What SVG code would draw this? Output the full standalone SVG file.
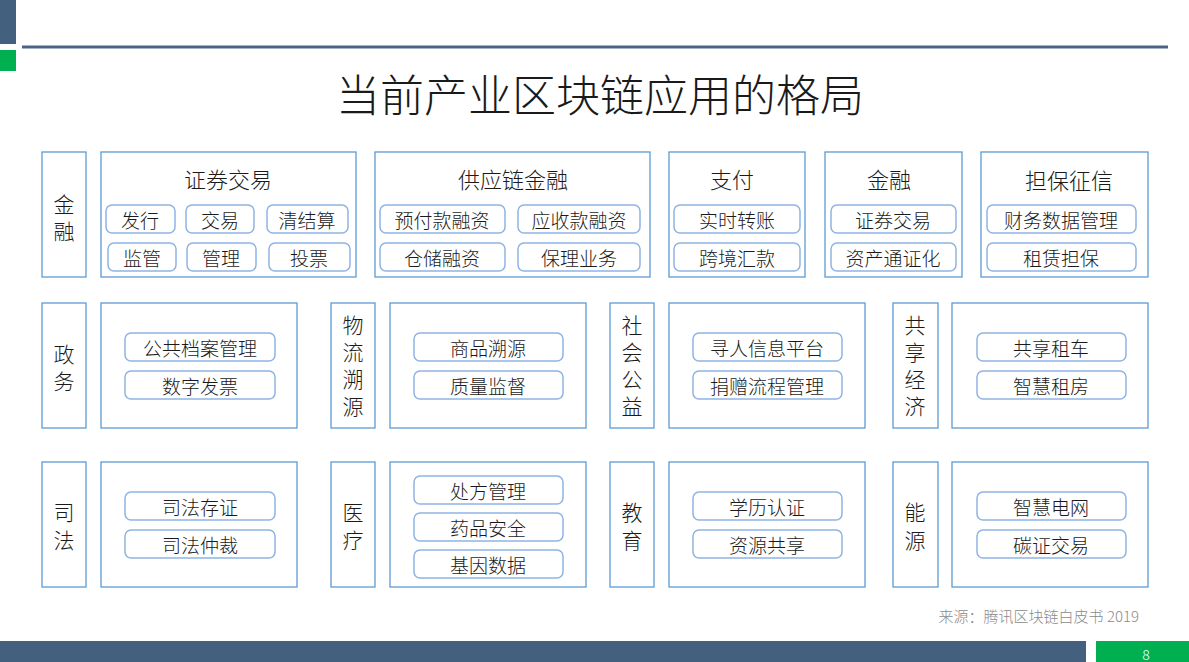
<svg xmlns="http://www.w3.org/2000/svg" width="1189" height="662" viewBox="0 0 1189 662">
<style>
text{font-family:"Noto Sans CJK SC","Noto Sans",sans-serif;fill:#1a1a1a;text-anchor:middle;font-weight:300}
.box{fill:#fff;stroke:#5b9bd5;stroke-width:1.3}
.pill{fill:#fff;stroke:#8fb4e3;stroke-width:1.5}
.lbl{font-size:21px;writing-mode:vertical-rl;letter-spacing:6px}
.l3{letter-spacing:7px}
.hd{font-size:22px;dominant-baseline:central}
.pt{font-size:19px;dominant-baseline:central}
</style>
<rect width="1189" height="662" fill="#fff"/>
<rect x="0" y="0" width="16" height="44" fill="#44607f"/>
<rect x="0" y="50" width="16" height="21" fill="#00b050"/>
<line x1="22" y1="47" x2="1168" y2="47" stroke="#4a6387" stroke-width="3"/>
<text x="600" y="93" style="font-size:44px;dominant-baseline:central">当前产业区块链应用的格局</text>

<g id="row1-label-jinrong"><rect class="box" x="42" y="152" width="44" height="125"/><text class="lbl" x="64" y="221">金融</text></g>
<g id="zhengquan"><rect class="box" x="101" y="152" width="255" height="125"/><text class="hd" x="228" y="178">证券交易</text>
<rect class="pill" x="106" y="205" width="69" height="28" rx="6"/><text class="pt" x="140" y="219">发行</text>
<rect class="pill" x="186" y="205" width="68" height="28" rx="6"/><text class="pt" x="220" y="219">交易</text>
<rect class="pill" x="267" y="205" width="81" height="28" rx="6"/><text class="pt" x="307" y="219">清结算</text>
<rect class="pill" x="108" y="243" width="68" height="28" rx="6"/><text class="pt" x="142" y="257">监管</text>
<rect class="pill" x="187" y="243" width="69" height="28" rx="6"/><text class="pt" x="221" y="257">管理</text>
<rect class="pill" x="269" y="243" width="81" height="28" rx="6"/><text class="pt" x="309" y="257">投票</text></g>
<g id="gongyinglian"><rect class="box" x="375" y="152" width="275" height="125"/><text class="hd" x="513" y="178">供应链金融</text>
<rect class="pill" x="380" y="205" width="125" height="28" rx="6"/><text class="pt" x="442" y="219">预付款融资</text>
<rect class="pill" x="518" y="205" width="122" height="28" rx="6"/><text class="pt" x="579" y="219">应收款融资</text>
<rect class="pill" x="380" y="243" width="125" height="28" rx="6"/><text class="pt" x="442" y="257">仓储融资</text>
<rect class="pill" x="518" y="243" width="122" height="28" rx="6"/><text class="pt" x="579" y="257">保理业务</text></g>
<g id="zhifu"><rect class="box" x="669" y="152" width="136" height="125"/><text class="hd" x="732" y="178">支付</text>
<rect class="pill" x="674" y="205" width="126" height="28" rx="6"/><text class="pt" x="737" y="219">实时转账</text>
<rect class="pill" x="674" y="243" width="126" height="28" rx="6"/><text class="pt" x="737" y="257">跨境汇款</text></g>
<g id="jinrong2"><rect class="box" x="825" y="152" width="137" height="125"/><text class="hd" x="889" y="178">金融</text>
<rect class="pill" x="831" y="205" width="125" height="28" rx="6"/><text class="pt" x="893" y="219">证券交易</text>
<rect class="pill" x="831" y="243" width="125" height="28" rx="6"/><text class="pt" x="893" y="257">资产通证化</text></g>
<g id="danbao"><rect class="box" x="981" y="152" width="167" height="125"/><text class="hd" x="1069" y="179">担保征信</text>
<rect class="pill" x="987" y="205" width="149" height="28" rx="6"/><text class="pt" x="1061" y="219">财务数据管理</text>
<rect class="pill" x="987" y="243" width="149" height="28" rx="6"/><text class="pt" x="1061" y="257">租赁担保</text></g>

<g id="zhengwu"><rect class="box" x="42" y="303" width="44" height="125"/><text class="lbl" x="64" y="371">政务</text>
<rect class="box" x="101" y="303" width="196" height="125"/>
<rect class="pill" x="125" y="333" width="150" height="28" rx="6"/><text class="pt" x="200" y="347">公共档案管理</text>
<rect class="pill" x="125" y="371" width="150" height="28" rx="6"/><text class="pt" x="200" y="385">数字发票</text></g>
<g id="wuliu"><rect class="box" x="331" y="303" width="44" height="125"/><text class="lbl" x="353" y="369">物流溯源</text>
<rect class="box" x="390" y="303" width="196" height="125"/>
<rect class="pill" x="414" y="333" width="149" height="28" rx="6"/><text class="pt" x="488" y="347">商品溯源</text>
<rect class="pill" x="414" y="371" width="149" height="28" rx="6"/><text class="pt" x="488" y="385">质量监督</text></g>
<g id="shehui"><rect class="box" x="610" y="303" width="44" height="125"/><text class="lbl" x="632" y="369">社会公益</text>
<rect class="box" x="669" y="303" width="196" height="125"/>
<rect class="pill" x="693" y="333" width="149" height="28" rx="6"/><text class="pt" x="767" y="347">寻人信息平台</text>
<rect class="pill" x="693" y="371" width="149" height="28" rx="6"/><text class="pt" x="767" y="385">捐赠流程管理</text></g>
<g id="gongxiang"><rect class="box" x="893" y="303" width="45" height="125"/><text class="lbl" x="915" y="369">共享经济</text>
<rect class="box" x="952" y="303" width="196" height="125"/>
<rect class="pill" x="977" y="333" width="149" height="28" rx="6"/><text class="pt" x="1051" y="347">共享租车</text>
<rect class="pill" x="977" y="371" width="149" height="28" rx="6"/><text class="pt" x="1051" y="385">智慧租房</text></g>

<g id="sifa"><rect class="box" x="42" y="462" width="44" height="125"/><text class="lbl l3" x="64" y="530">司法</text>
<rect class="box" x="101" y="462" width="196" height="125"/>
<rect class="pill" x="125" y="492" width="150" height="28" rx="6"/><text class="pt" x="200" y="506">司法存证</text>
<rect class="pill" x="125" y="530" width="150" height="28" rx="6"/><text class="pt" x="200" y="544">司法仲裁</text></g>
<g id="yiliao"><rect class="box" x="331" y="462" width="44" height="125"/><text class="lbl l3" x="353" y="530">医疗</text>
<rect class="box" x="390" y="462" width="196" height="125"/>
<rect class="pill" x="414" y="476" width="149" height="28" rx="6"/><text class="pt" x="488" y="490">处方管理</text>
<rect class="pill" x="414" y="513" width="149" height="28" rx="6"/><text class="pt" x="488" y="527">药品安全</text>
<rect class="pill" x="414" y="550" width="149" height="28" rx="6"/><text class="pt" x="488" y="564">基因数据</text></g>
<g id="jiaoyu"><rect class="box" x="610" y="462" width="44" height="125"/><text class="lbl l3" x="632" y="530">教育</text>
<rect class="box" x="669" y="462" width="196" height="125"/>
<rect class="pill" x="693" y="492" width="149" height="28" rx="6"/><text class="pt" x="767" y="506">学历认证</text>
<rect class="pill" x="693" y="530" width="149" height="28" rx="6"/><text class="pt" x="767" y="544">资源共享</text></g>
<g id="nengyuan"><rect class="box" x="893" y="462" width="45" height="125"/><text class="lbl l3" x="915" y="530">能源</text>
<rect class="box" x="952" y="462" width="196" height="125"/>
<rect class="pill" x="977" y="492" width="149" height="28" rx="6"/><text class="pt" x="1051" y="506">智慧电网</text>
<rect class="pill" x="977" y="530" width="149" height="28" rx="6"/><text class="pt" x="1051" y="544">碳证交易</text></g>

<g id="connectors"></g>
<text x="1139" y="622" style="font-size:15px;fill:#8a8a8a;text-anchor:end">来源：腾讯区块链白皮书 2019</text>
<rect x="0" y="641" width="1086" height="21" fill="#44607f"/>
<rect x="1096" y="641" width="93" height="21" fill="#00b050"/>
<text x="1146" y="660" style="font-size:14px;fill:#fff">8</text>
</svg>
